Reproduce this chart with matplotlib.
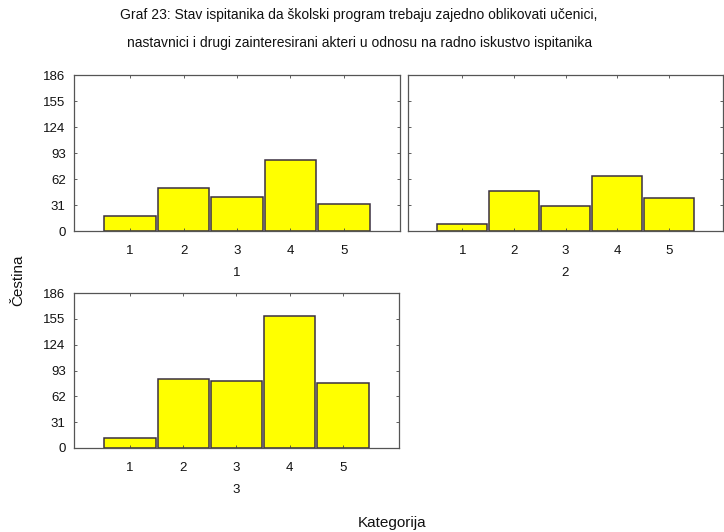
import matplotlib
matplotlib.use("Agg")
import matplotlib.pyplot as plt

plt.rcParams['font.family'] = ['Liberation Sans', 'DejaVu Sans']

# frequencies per category, one list per work-experience group
categories = [1, 2, 3, 4, 5]
group1 = [18, 51, 40, 85, 32]
group2 = [8, 48, 30, 65, 39]
group3 = [12, 83, 81, 159, 78]
yticks = [0, 31, 62, 93, 124, 155, 186]
panel_labels = ['1', '2', '3']

title1 = "Graf 23: Stav ispitanika da školski program trebaju zajedno oblikovati učenici,"
title2 = "nastavnici i drugi zainteresirani akteri u odnosu na radno iskustvo ispitanika"

W, H = 724, 532
fig = plt.figure(figsize=(W / 100, H / 100), dpi=100)

def px_axes(x0, y0, x1, y1):
    return fig.add_axes([x0 / W, 1 - y1 / H, (x1 - x0) / W, (y1 - y0) / H])

boxes = [(74, 75, 400, 231), (408, 75, 723, 231), (74, 293, 399, 448)]
data = [group1, group2, group3]
edge = '#3a3040'

for i, (box, vals) in enumerate(zip(boxes, data)):
    ax = px_axes(*box)
    ax.bar(categories, vals, width=0.96, color='#ffff00', edgecolor=edge, linewidth=1.1)
    ax.set_xlim(-0.05, 6.05)
    ax.set_ylim(0, 186)
    ax.set_xticks(categories)
    ax.set_yticks(yticks)
    ax.tick_params(direction='in', length=2, width=0.6, colors='#444444',
                   labelcolor='#111111', labelsize=9.5, top=True, right=True)
    ax.tick_params(axis='x', pad=10)
    ax.tick_params(axis='y', pad=6)
    if i == 1:
        ax.set_yticklabels([])
    ax.set_xlabel(panel_labels[i], fontsize=9.5, labelpad=7, color='#111111')
    for s in ax.spines.values():
        s.set_color('#555555')
        s.set_linewidth(0.9)

fig.text(359 / W, 1 - 15 / H, title1, ha='center', va='center', fontsize=10, color='#111111')
fig.text(360 / W, 1 - 43 / H, title2, ha='center', va='center', fontsize=10, color='#111111')
fig.text(18 / W, 1 - 280 / H, "Čestina", rotation=90, ha='center', va='center', fontsize=11, color='#111111')
fig.text(392 / W, 1 - 523 / H, "Kategorija", ha='center', va='center', fontsize=11, color='#111111')

fig.savefig('out.png', dpi=100, facecolor='white')
